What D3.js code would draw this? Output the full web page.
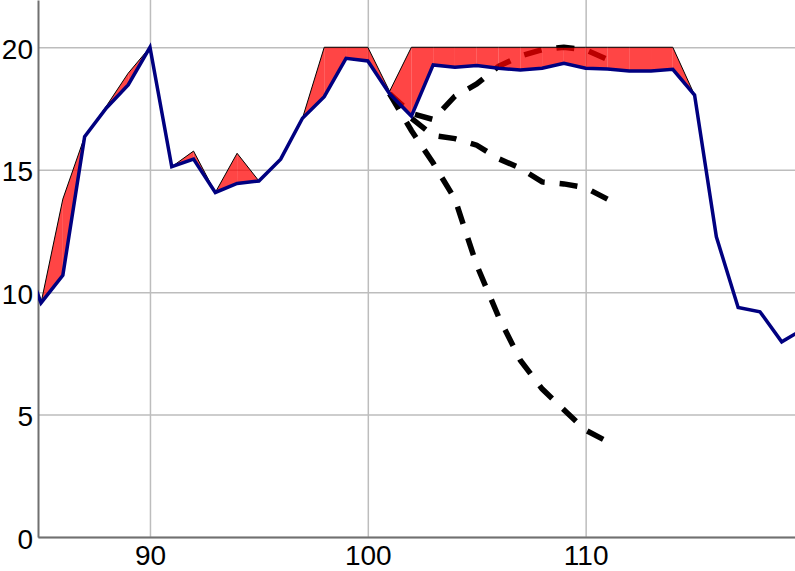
<!DOCTYPE html>
<html>
<head>
<meta charset="utf-8">
<script src="https://cdn.jsdelivr.net/npm/d3@7"></script>
<style>
	body { margin: 0; background: #fff; }
	svg { display: block; font-family: "Liberation Sans", Arial, Helvetica, sans-serif; }
	.axis text { font-size: 28px; fill: #000; }
	.axis .domain { stroke: #707070; stroke-width: 2; }
	.axis .tick line { stroke: #bdbdbd; stroke-width: 1.5; }
</style>
</head>
<body>
<div id="chart"></div>
<script>
// observed series (blue) and its upper bound (red band top), one value per x
var xs = [84, 85, 86, 87, 88, 89, 90, 91, 92, 93, 94, 95, 96, 97, 98, 99, 100, 101, 102,
	103, 104, 105, 106, 107, 108, 109, 110, 111, 112, 113, 114, 115, 116, 117, 118, 119, 120];
var observed = [12.0, 9.56, 10.69, 16.35, 17.52, 18.46, 20.0, 15.12, 15.43, 14.07, 14.44, 14.54, 15.43, 17.1, 17.98, 19.55, 19.44, 18.1, 17.19,
	19.28, 19.18, 19.25, 19.14, 19.07, 19.14, 19.35, 19.14, 19.11, 19.03, 19.03, 19.1, 18.05, 12.26, 9.37, 9.2, 7.97, 8.49];
var upper = [12.0, 9.56, 13.8, 16.35, 17.6, 18.94, 20.0, 15.12, 15.76, 14.07, 15.67, 14.54, 15.43, 17.1, 20.0, 20.0, 20.0, 18.2, 20.0,
	20.0, 20.0, 20.0, 20.0, 20.0, 20.0, 20.0, 20.0, 20.0, 20.0, 20.0, 20.0, 18.05, 12.26, 9.37, 9.2, 7.97, 8.49];

// dashed forecasts starting at x = 101
var forecastX = [101, 102, 103, 104, 105, 106, 107, 108, 109, 110, 111];
var forecastHigh = [18.1, 17.3, 17.05, 18.0, 18.5, 19.22, 19.64, 19.9, 20.0, 19.9, 19.5];
var forecastMid = [18.1, 17.1, 16.4, 16.27, 16.0, 15.45, 15.06, 14.5, 14.42, 14.26, 13.8];
var forecastLow = [18.1, 16.6, 15.27, 13.8, 11.1, 9.0, 7.22, 6.05, 5.2, 4.36, 3.9];

var xTicks = [90, 100, 110];
var yTicks = [0, 5, 10, 15, 20];

var W = 795, H = 571;
var margin = {top: 0, right: 0, bottom: 34, left: 38};
var width = W - margin.left - margin.right;
var height = H - margin.top - margin.bottom;

var svg = d3.select("#chart").append("svg")
	.attr("width", W)
	.attr("height", H);

var g = svg.append("g")
	.attr("transform", "translate(" + margin.left + "," + margin.top + ")");

var x = d3.scaleLinear().domain([84.86, 119.61]).range([0, width]);
var y = d3.scaleLinear().domain([0, 21.93]).range([height, 0]);

g.append("defs").append("clipPath")
	.attr("id", "plot-clip")
	.append("rect")
	.attr("width", width)
	.attr("height", height);

// grid + axes
g.append("g")
	.attr("class", "y axis")
	.call(d3.axisLeft(y).tickValues(yTicks).tickSizeInner(-width).tickSizeOuter(0).tickPadding(5))
	.selectAll("text").attr("dy", "0.4em");

g.append("g")
	.attr("class", "x axis")
	.attr("transform", "translate(0," + height + ")")
	.call(d3.axisBottom(x).tickValues(xTicks).tickSizeInner(-height).tickSizeOuter(0).tickPadding(8));

// keep axis lines above the grid
g.selectAll(".axis .domain").raise();

var plot = g.append("g").attr("clip-path", "url(#plot-clip)");

var pts = xs.map(function(d, i){ return {x: d, lo: observed[i], hi: upper[i]}; });

// forecasts go under the band so they pick up its tint
var forecasts = [forecastHigh, forecastMid, forecastLow];
var fline = d3.line()
	.x(function(d){ return x(d.x); })
	.y(function(d){ return y(d.v); });

plot.selectAll("path.forecast")
	.data(forecasts)
	.enter().append("path")
	.attr("class", "forecast")
	.attr("d", function(s){ return fline(s.map(function(v, i){ return {x: forecastX[i], v: v}; })); })
	.style("fill", "none")
	.style("stroke", "#000")
	.style("stroke-width", 5.5)
	.style("stroke-dasharray", "18,15");

// band drawn one segment at a time
var area = d3.area()
	.x(function(d){ return x(d.x); })
	.y0(function(d){ return y(d.lo); })
	.y1(function(d){ return y(d.hi); });

var segs = d3.pairs(pts);
plot.selectAll("path.band")
	.data(segs)
	.enter().append("path")
	.attr("class", "band")
	.attr("d", area)
	.style("fill", "#ff0000")
	.style("fill-opacity", 0.73)
	.style("stroke", "none");

plot.append("path")
	.datum(pts)
	.attr("d", d3.line().x(function(d){ return x(d.x); }).y(function(d){ return y(d.hi); }))
	.style("fill", "none")
	.style("stroke", "#000")
	.style("stroke-width", 1);

plot.append("path")
	.datum(pts)
	.attr("d", d3.line().x(function(d){ return x(d.x); }).y(function(d){ return y(d.lo); }))
	.style("fill", "none")
	.style("stroke", "#000080")
	.style("stroke-width", 3.5)
	.style("stroke-linejoin", "miter");
</script>
</body>
</html>
